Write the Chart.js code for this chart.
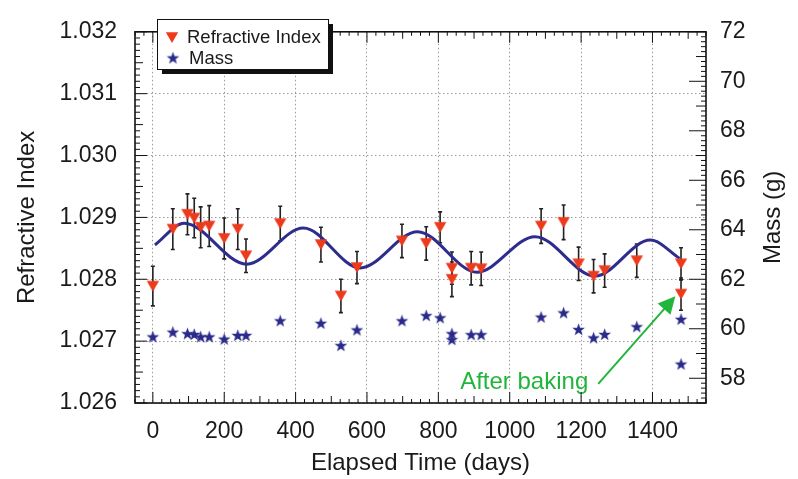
<!DOCTYPE html>
<html><head><meta charset="utf-8">
<script src="https://cdn.jsdelivr.net/npm/chart.js@4.4.0/dist/chart.umd.min.js"></script>
<style>html,body{margin:0;padding:0;background:#fff}canvas{display:block}</style>
</head><body>
<canvas id="c" width="798" height="479"></canvas>
<script>
// ---- data ----
const days = [0, 56, 97, 116, 134, 158, 200, 238, 261, 357, 471, 527, 572, 698, 766, 805, 838, 838, 892, 920, 1088, 1151, 1193, 1235, 1266, 1356, 1480, 1480];
const refIndex = [1.02789, 1.02881, 1.02905, 1.02899, 1.02884, 1.02886, 1.02866, 1.02881, 1.02838, 1.0289, 1.02856, 1.02773, 1.02819, 1.02862, 1.02858, 1.02884, 1.02818, 1.02800, 1.02818, 1.02817, 1.02886, 1.02892, 1.02825, 1.02805, 1.02814, 1.02830, 1.02825, 1.02776];
const refErr = [0.00032, 0.00033, 0.00033, 0.00032, 0.00033, 0.00033, 0.00033, 0.00033, 0.00027, 0.00028, 0.00028, 0.00027, 0.00026, 0.00027, 0.00027, 0.00025, 0.00026, 0.00028, 0.00027, 0.00027, 0.00028, 0.00028, 0.00027, 0.00027, 0.00027, 0.00027, 0.00026, 0.00026];
const mass = [59.67, 59.86, 59.80, 59.77, 59.67, 59.67, 59.58, 59.73, 59.73, 60.32, 60.22, 59.32, 59.95, 60.32, 60.53, 60.44, 59.80, 59.56, 59.76, 59.76, 60.47, 60.64, 59.97, 59.63, 59.77, 60.08, 60.38, 58.57];
const fitDays = [6, 88, 263, 422, 581, 742, 908, 1071, 1239, 1394, 1476];
const fitIndex = [1.028555, 1.028907, 1.028244, 1.028829, 1.028182, 1.02877, 1.028114, 1.028689, 1.028051, 1.028633, 1.028337];
const xTicks = [0, 200, 400, 600, 800, 1000, 1200, 1400];
const yTicks = [1.026, 1.027, 1.028, 1.029, 1.030, 1.031, 1.032];
const massTicks = [58, 60, 62, 64, 66, 68, 70, 72];
const legendLabels = ['Refractive Index', 'Mass'];
const massTitle = 'Mass (g)';
const noteText = 'After baking';
const noteAt = {x: 1220, y: 1.02634};
const arrowFrom = {x: 1248, y: 1.02631};
const arrowTo = {x: 1464, y: 1.027725};

const FONT = "'Liberation Sans', Arial, Helvetica, sans-serif";
const RED = '#ee3a1c', BLUE = '#2a2a8a', CURVE = '#2e2c8c', GREEN = '#22b53c', TXT = '#1a1a1a';

function triCanvas() {
  const c = document.createElement('canvas'); c.width = 14; c.height = 13;
  const g = c.getContext('2d');
  g.beginPath(); g.moveTo(0.8, 1.2); g.lineTo(13.2, 1.2); g.lineTo(7, 12); g.closePath();
  g.fillStyle = RED; g.fill();
  return c;
}
function starCanvas() {
  const c = document.createElement('canvas'); c.width = 15; c.height = 15;
  const g = c.getContext('2d');
  const cx = 7.5, cy = 7.9, R = 6.6, r = 2.7;
  g.beginPath();
  for (let k = 0; k < 10; k++) {
    const ang = -Math.PI / 2 + k * Math.PI / 5;
    const rr = k % 2 ? r : R;
    const px = cx + rr * Math.cos(ang), py = cy + rr * Math.sin(ang);
    k ? g.lineTo(px, py) : g.moveTo(px, py);
  }
  g.closePath(); g.fillStyle = BLUE; g.fill();
  return c;
}
const TRI = triCanvas(), STAR = starCanvas();

const errorBars = {
  id: 'errorBars',
  beforeDatasetsDraw(chart) {
    const {ctx, scales: {x, y}} = chart;
    ctx.save();
    ctx.strokeStyle = '#222'; ctx.lineWidth = 1.6;
    days.forEach((d, i) => {
      const px = x.getPixelForValue(d);
      const y1 = y.getPixelForValue(refIndex[i] - refErr[i]);
      const y2 = y.getPixelForValue(refIndex[i] + refErr[i]);
      ctx.beginPath();
      ctx.moveTo(px, y1); ctx.lineTo(px, y2);
      ctx.moveTo(px - 2, y1); ctx.lineTo(px + 2, y1);
      ctx.moveTo(px - 2, y2); ctx.lineTo(px + 2, y2);
      ctx.stroke();
    });
    ctx.restore();
  }
};

const frameTicks = {
  id: 'frameTicks',
  afterDraw(chart) {
    const {ctx, chartArea: a, scales} = chart;
    ctx.save();
    ctx.strokeStyle = '#111'; ctx.lineWidth = 1;
    const seg = (x1, y1, x2, y2) => { ctx.beginPath(); ctx.moveTo(x1, y1); ctx.lineTo(x2, y2); ctx.stroke(); };
    for (let i = 0; i <= 64; i++) {
      const v = -50 + i * 25;
      const p = scales.x.getPixelForValue(v);
      const len = v % 200 === 0 ? 11 : (v % 100 === 0 ? 7 : 4);
      seg(p, a.bottom, p, a.bottom - len);
      seg(p, a.top, p, a.top + len);
    }
    for (let i = 0; i <= 60; i++) {
      const p = scales.y.getPixelForValue(1.026 + i * 0.0001);
      const len = i % 10 === 0 ? 12 : (i % 5 === 0 ? 8 : 5);
      seg(a.left, p, a.left + len, p);
    }
    for (let i = 0; i <= 75; i++) {
      const p = scales.y2.getPixelForValue(57 + i * 0.2);
      const len = i % 10 === 5 ? 17 : (i % 5 === 0 ? 10 : 5);
      seg(a.right, p, a.right - len, p);
    }
    ctx.lineWidth = 1.6;
    ctx.strokeRect(a.left, a.top, a.right - a.left, a.bottom - a.top);
    // right axis title, reading bottom-to-top
    const s2 = scales.y2;
    ctx.fillStyle = TXT; ctx.font = '24px ' + FONT;
    ctx.textAlign = 'center'; ctx.textBaseline = 'middle';
    ctx.translate(s2.right - 25, (s2.top + s2.bottom) / 2);
    ctx.rotate(-Math.PI / 2);
    ctx.fillText(massTitle, 0, 0);
    ctx.restore();
  }
};

const annotation = {
  id: 'annotation',
  afterDatasetsDraw(chart) {
    const {ctx, scales: {x, y}} = chart;
    ctx.save();
    ctx.fillStyle = GREEN; ctx.strokeStyle = GREEN;
    ctx.font = '24px ' + FONT;
    ctx.textAlign = 'right'; ctx.textBaseline = 'middle';
    ctx.fillText(noteText, x.getPixelForValue(noteAt.x), y.getPixelForValue(noteAt.y));
    const x1 = x.getPixelForValue(arrowFrom.x), y1 = y.getPixelForValue(arrowFrom.y);
    const x2 = x.getPixelForValue(arrowTo.x), y2 = y.getPixelForValue(arrowTo.y);
    const dx = x2 - x1, dy = y2 - y1, L = Math.hypot(dx, dy), ux = dx / L, uy = dy / L;
    const hl = 17, hw = 8.5;
    const bx = x2 - ux * hl, by = y2 - uy * hl;
    ctx.lineWidth = 2;
    ctx.beginPath(); ctx.moveTo(x1, y1); ctx.lineTo(bx + ux * 2, by + uy * 2); ctx.stroke();
    ctx.beginPath();
    ctx.moveTo(x2, y2);
    ctx.lineTo(bx - uy * hw, by + ux * hw);
    ctx.lineTo(bx + uy * hw, by - ux * hw);
    ctx.closePath(); ctx.fill();
    ctx.restore();
  }
};

const legendBox = {
  id: 'legendBox',
  afterDraw(chart) {
    const {ctx} = chart;
    const L = 157, T = 19, W = 171, H = 50;
    ctx.save();
    ctx.fillStyle = '#111';
    ctx.fillRect(L + 5, T + 5, W, H);
    ctx.fillStyle = '#fff';
    ctx.fillRect(L, T, W, H);
    ctx.strokeStyle = '#111'; ctx.lineWidth = 1;
    ctx.strokeRect(L + 0.5, T + 0.5, W, H);
    ctx.drawImage(TRI, 172 - TRI.width / 2, 37.5 - TRI.height / 2);
    ctx.drawImage(STAR, 173 - STAR.width / 2, 58 - STAR.height / 2);
    ctx.fillStyle = TXT; ctx.font = '18.5px ' + FONT;
    ctx.textAlign = 'left'; ctx.textBaseline = 'middle';
    ctx.fillText(legendLabels[0], 187, 38);
    ctx.fillText(legendLabels[1], 189, 59);
    ctx.restore();
  }
};

const gridCommon = {color: '#9a9a9a', lineWidth: 1, drawTicks: false};

new Chart(document.getElementById('c'), {
  type: 'scatter',
  data: {
    datasets: [
      {label: legendLabels[0], data: days.map((d, i) => ({x: d, y: refIndex[i]})), yAxisID: 'y',
       pointStyle: TRI, pointRadius: 6, pointHoverRadius: 6},
      {label: legendLabels[1], data: days.map((d, i) => ({x: d, y: mass[i]})), yAxisID: 'y2',
       pointStyle: STAR, pointRadius: 6, pointHoverRadius: 6},
      {label: 'fit', type: 'line', data: fitDays.map((d, i) => ({x: d, y: fitIndex[i]})), yAxisID: 'y',
       borderColor: CURVE, borderWidth: 3, pointRadius: 0, fill: false, cubicInterpolationMode: 'monotone'}
    ]
  },
  options: {
    responsive: false, animation: false, devicePixelRatio: 1,
    layout: {padding: {top: 16, left: 0, right: 0, bottom: 0}},
    plugins: {legend: {display: false}, tooltip: {enabled: false}},
    scales: {
      x: {
        type: 'linear', min: -50, max: 1550,
        afterBuildTicks: s => { s.ticks = xTicks.map(v => ({value: v})); },
        afterFit: s => { s.height = 76; },
        grid: gridCommon, border: {display: false, dash: [1.5, 2.5]},
        ticks: {font: {family: FONT, size: 23}, color: TXT, padding: 15, maxRotation: 0, autoSkip: false,
                callback: v => String(v)},
        title: {display: true, text: 'Elapsed Time (days)', font: {family: FONT, size: 24}, color: TXT,
                padding: {top: 0, bottom: 1}}
      },
      y: {
        type: 'linear', position: 'left', min: 1.026, max: 1.032,
        afterBuildTicks: s => { s.ticks = yTicks.map(v => ({value: v})); },
        afterFit: s => { s.width = 135; },
        grid: gridCommon, border: {display: false, dash: [1.5, 2.5]},
        ticks: {font: {family: FONT, size: 23}, color: TXT, padding: 18, callback: v => Number(v).toFixed(3)},
        title: {display: true, text: 'Refractive Index', font: {family: FONT, size: 24}, color: TXT,
                padding: {top: 13, bottom: 0}}
      },
      y2: {
        type: 'linear', position: 'right', min: 57, max: 72,
        afterBuildTicks: s => { s.ticks = massTicks.map(v => ({value: v})); },
        afterFit: s => { s.width = 92; },
        grid: {display: false, drawTicks: false}, border: {display: false},
        ticks: {font: {family: FONT, size: 23}, color: TXT, padding: 14, callback: v => String(v)},
        title: {display: false}
      }
    }
  },
  plugins: [errorBars, annotation, frameTicks, legendBox]
});
</script>
</body></html>
